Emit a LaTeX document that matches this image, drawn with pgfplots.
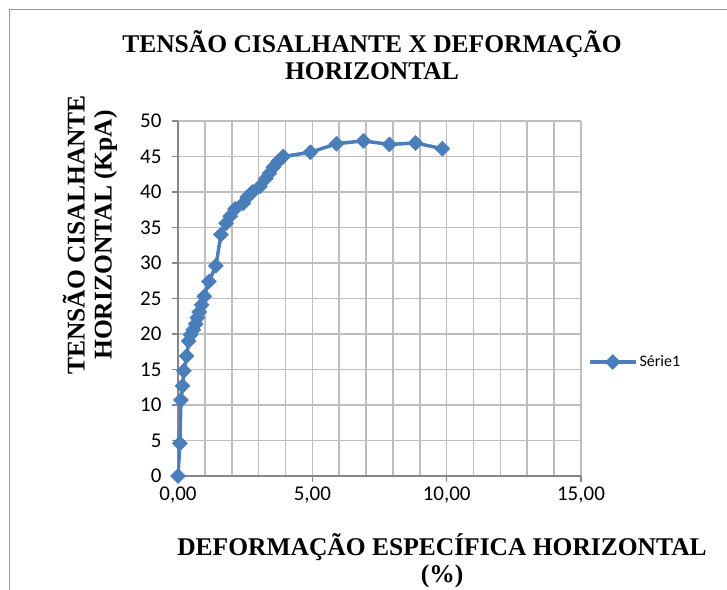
\documentclass[border=0pt]{standalone}
\usepackage{fontspec}
\setmainfont{Liberation Serif}
\newfontfamily\calibri{Carlito}
\usepackage{pgfplots}
\pgfplotsset{compat=1.18}

\definecolor{serieblue}{HTML}{4A7EBB}
\definecolor{gridgray}{HTML}{BEBEBE}
\definecolor{axisgray}{HTML}{868686}
\definecolor{framegray}{HTML}{9A9A9A}

\begin{document}
\begin{tikzpicture}[x=1pt,y=1pt]
\path[use as bounding box] (0,0) rectangle (727,589);
% chart frame (only left and top edges are inside the picture)
\draw[framegray, line width=1.5pt] (9.5,-5) -- (9.5,579.5) -- (735,579.5);

\node[font=\bfseries\fontsize{25.5}{27}\selectfont, align=center] at (372,534)
  {TENSÃO CISALHANTE X DEFORMAÇÃO\\HORIZONTAL};
\node[font=\bfseries\fontsize{25.5}{27}\selectfont, align=center, rotate=90] at (90,354)
  {TENSÃO CISALHANTE\\HORIZONTAL (KpA)};
\node[font=\bfseries\fontsize{25.5}{26.5}\selectfont, align=center] at (442,28)
  {DEFORMAÇÃO ESPECÍFICA HORIZONTAL\\(\%)};

\begin{axis}[
    at={(178pt,113pt)}, anchor=south west,
    scale only axis, width=403pt, height=355pt,
    xmin=0, xmax=15, ymin=0, ymax=50,
    axis x line=bottom, axis y line=left,
    axis line style={-, axisgray, line width=1.5pt},
    xtick={0,5,10,15},
    xticklabels={{0,00},{5,00},{10,00},{15,00}},
    minor xtick={1,2,3,4,6,7,8,9,11,12,13,14},
    ytick={0,5,...,50},
    grid=both,
    major grid style={gridgray, line width=1.6pt},
    minor grid style={gridgray, line width=1.6pt},
    tick align=outside,
    major tick length=6pt, minor tick length=0pt,
    tick style={axisgray, line width=1.5pt},
    /pgf/number format/assume math mode=true,
    ticklabel style={font=\calibri\fontsize{21}{23}\selectfont, text=black},
    yticklabel style={xshift=-7pt},
    xticklabel style={yshift=-1pt},
    legend style={at={(1.017,0.321)}, anchor=west, draw=none, fill=none,
                  inner sep=0pt, font=\calibri\fontsize{16}{18}\selectfont},
    legend cell align=left,
    legend image code/.code={
        \draw[mark repeat=2, mark phase=2, #1]
            plot coordinates {(0pt,0pt) (23pt,0pt) (46pt,0pt)};
    },
]
\addplot[serieblue, line width=3.5pt, mark=square*, mark size=5.3pt,
         mark options={rotate=45, solid, fill=serieblue, draw=serieblue, line width=0.5pt}]
coordinates {
    (0.00, 0.0)
    (0.07, 4.6)
    (0.11, 10.7)
    (0.17, 12.7)
    (0.22, 14.8)
    (0.32, 16.9)
    (0.40, 19.0)
    (0.47, 19.9)
    (0.57, 20.6)
    (0.66, 21.4)
    (0.72, 22.3)
    (0.79, 23.1)
    (0.88, 24.1)
    (0.98, 25.3)
    (1.15, 27.4)
    (1.41, 29.6)
    (1.60, 34.0)
    (1.79, 35.6)
    (1.94, 36.6)
    (2.12, 37.6)
    (2.43, 38.4)
    (2.58, 39.3)
    (2.77, 40.0)
    (3.05, 40.8)
    (3.27, 41.9)
    (3.40, 42.6)
    (3.55, 43.5)
    (3.73, 44.3)
    (3.92, 45.0)
    (4.93, 45.6)
    (5.90, 46.8)
    (6.90, 47.2)
    (7.87, 46.7)
    (8.84, 46.9)
    (9.84, 46.1)
};
\legend{Série1}
\end{axis}
\end{tikzpicture}
\end{document}
